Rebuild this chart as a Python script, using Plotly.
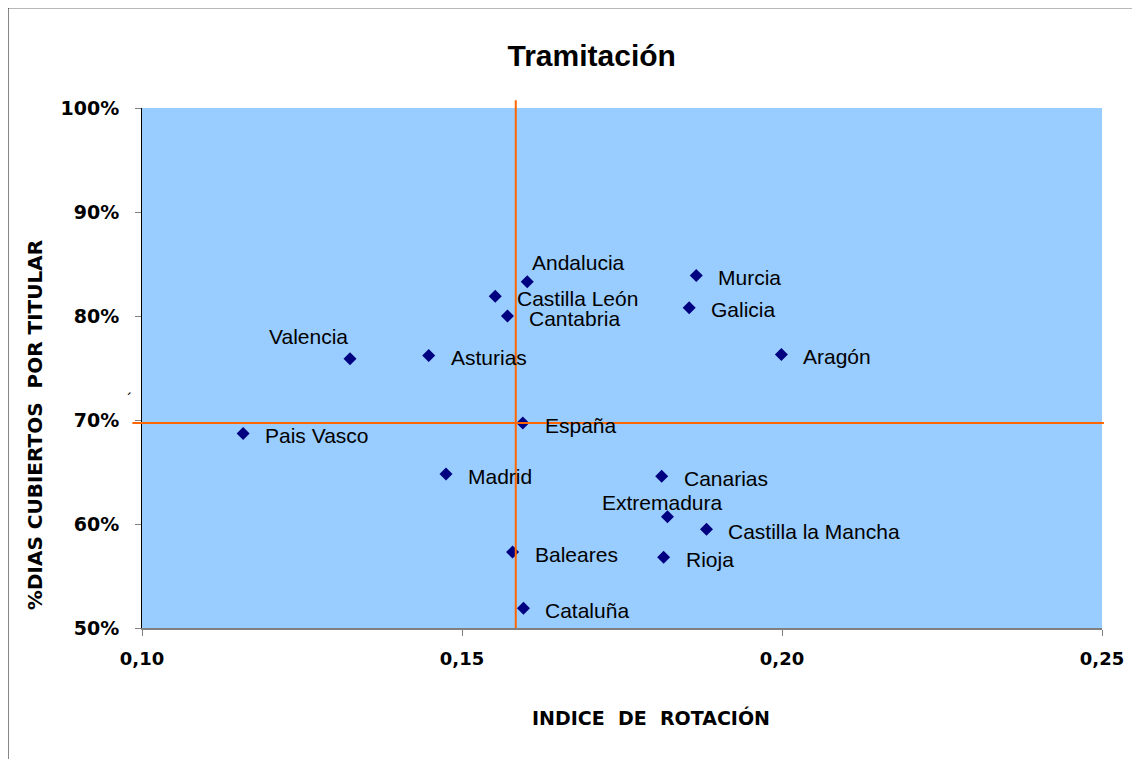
import plotly.graph_objects as go

# Data
REGIONS = [
    "Andalucia", "Castilla León", "Cantabria", "Asturias", "Valencia",
    "Pais Vasco", "España", "Murcia", "Galicia", "Aragón", "Madrid",
    "Canarias", "Extremadura", "Castilla la Mancha", "Baleares", "Rioja",
    "Cataluña",
]
ROTACION = [
    0.1602, 0.1552, 0.1571, 0.1448, 0.1325,
    0.1158, 0.1595, 0.1866, 0.1855, 0.1999, 0.1475,
    0.1812, 0.1821, 0.1882, 0.1579, 0.1815,
    0.1596,
]
DIAS_CUBIERTOS = [
    83.3, 81.9, 80.0, 76.2, 75.9,
    68.7, 69.7, 83.9, 80.8, 76.3, 64.8,
    64.6, 60.7, 59.5, 57.3, 56.8,
    51.9,
]
REF_X = 0.1584   # national reference (vertical line)
REF_Y = 69.7     # national reference (horizontal line)
X_TICKS = [0.10, 0.15, 0.20, 0.25]
Y_TICKS = [50, 60, 70, 80, 90, 100]
Y_TICK_LABELS = ["50%", "60%", "70%", "80%", "90%", "100%"]

NAVY = "#000080"
ORANGE = "#FF6600"
LABEL_FONT = "Liberation Sans, Arial"
AXIS_FONT = "DejaVu Sans, Verdana"

fig = go.Figure()

fig.add_trace(go.Scatter(
    x=ROTACION, y=DIAS_CUBIERTOS,
    mode="markers",
    marker=dict(symbol="diamond", size=10, color=NAVY),
    text=REGIONS,
    hovertemplate="%{text}<br>%{x:.3f}<br>%{y:.1f}%<extra></extra>",
    showlegend=False,
))

# label placement: (xanchor, xshift, yshift); default is to the right
special = {
    "Andalucia": ("left", 3, 19),
    "Valencia": ("right", 0, 22),
    "Extremadura": ("center", -5, 14),
}
for name, x, y in zip(REGIONS, ROTACION, DIAS_CUBIERTOS):
    xa, xs, ys = special.get(name, ("left", 20, -2))
    fig.add_annotation(
        x=x, y=y, text=name, showarrow=False,
        xanchor=xa, yanchor="middle", xshift=xs, yshift=ys,
        font=dict(family=LABEL_FONT, size=21, color="#000000"),
    )

# reference lines (slightly overshooting the plot area like the original)
fig.add_shape(type="line", xref="x", yref="paper", x0=REF_X, x1=REF_X,
              y0=0, y1=1.015, line=dict(color=ORANGE, width=2))
fig.add_shape(type="line", xref="paper", yref="y", x0=-0.01, x1=1.002,
              y0=REF_Y, y1=REF_Y, line=dict(color=ORANGE, width=2))

# stray mark next to the 70% tick
fig.add_annotation(x=-0.018, y=0.44, xref="paper", yref="paper", text="´",
                   showarrow=False, font=dict(size=16, color="#000000"))

# axis titles (off-centre in the original, so placed as annotations)
fig.add_annotation(x=0.530, y=-0.173, xref="paper", yref="paper",
                   text="<b>INDICE  DE  ROTACIÓN</b>", showarrow=False,
                   xanchor="center", yanchor="middle",
                   font=dict(family=AXIS_FONT, size=19, color="#000000"))
fig.add_annotation(x=-0.1115, y=0.39, xref="paper", yref="paper",
                   text="<b>%DIAS CUBIERTOS  POR TITULAR</b>", showarrow=False,
                   textangle=-90, xanchor="center", yanchor="middle",
                   font=dict(family=AXIS_FONT, size=20, color="#000000"))

# chart frame (partially visible)
fig.add_shape(type="line", xref="paper", yref="paper", x0=-0.1396, x1=1.06,
              y0=1.1923, y1=1.1923, line=dict(color="#A0A0A0", width=1.5))
fig.add_shape(type="line", xref="paper", yref="paper", x0=-0.1396, x1=-0.1396,
              y0=1.1923, y1=-0.28, line=dict(color="#000000", width=1))

fig.update_layout(
    title=dict(text="<b>Tramitación</b>", x=0.512, xanchor="center",
               y=0.938, yanchor="middle",
               font=dict(family=LABEL_FONT, size=30, color="#000000")),
    width=1140, height=759,
    margin=dict(l=134, r=46, t=100, b=139),
    plot_bgcolor="#99CCFF",
    paper_bgcolor="white",
    separators=",.",
    xaxis=dict(
        range=[0.10, 0.25], tickvals=X_TICKS, tickformat=".2f",
        showgrid=False, zeroline=False,
        showline=True, linecolor="#808080", linewidth=1.5,
        ticks="outside", ticklen=6, tickcolor="#808080",
        ticklabelstandoff=8,
        tickfont=dict(family=AXIS_FONT, size=18, color="#000000", weight="bold"),
    ),
    yaxis=dict(
        range=[50, 100], tickvals=Y_TICKS, ticktext=Y_TICK_LABELS,
        showgrid=False, zeroline=False,
        showline=True, linecolor="#000000", linewidth=1,
        ticks="outside", ticklen=6, tickcolor="#808080",
        ticklabelstandoff=12,
        tickfont=dict(family=AXIS_FONT, size=19, color="#000000", weight="bold"),
    ),
)

fig.write_html("out.html")
